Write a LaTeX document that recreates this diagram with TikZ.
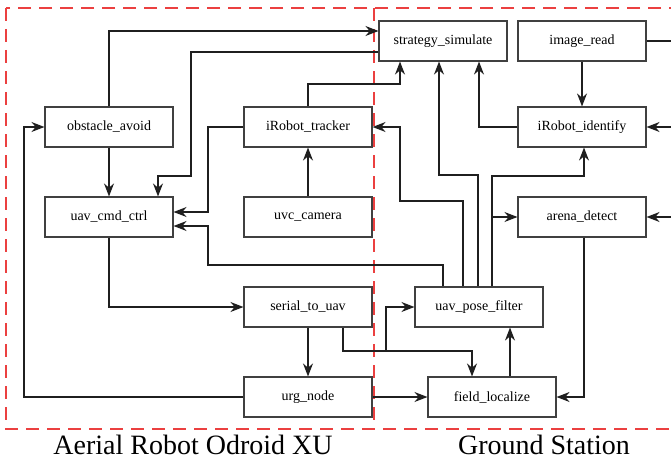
\documentclass[tikz,border=0pt]{standalone}
\usepackage{fontspec}
\setmainfont{Liberation Serif}
\usetikzlibrary{arrows.meta,positioning,calc}
\definecolor{zone}{RGB}{235,64,64}

\begin{document}
\begin{tikzpicture}[x=1pt,y=-1pt,>={Stealth[length=13pt,width=10pt]},
  blk/.style={draw=black!75,line width=1.1pt,minimum width=128pt,minimum height=40pt,inner sep=0pt,font=\fontsize{14}{16}\selectfont},
  wire/.style={draw=black!88,line width=1.3pt},
  area/.style={draw=zone,dash pattern=on 13pt off 8pt,line width=1.2pt},
  title/.style={anchor=base,font=\fontsize{28}{32}\selectfont}]
\useasboundingbox (0,0) rectangle (671,460);
\clip (0,0) rectangle (671,460);
% processes
\foreach \nm/\p/\t in {obst/{109,127}/obstacle\_avoid, cmd/{109,217}/uav\_cmd\_ctrl,
    track/{308,127}/iRobot\_tracker, uvc/{308,217}/uvc\_camera,
    serial/{308,307}/serial\_to\_uav, urg/{308,397}/urg\_node,
    strat/{443,41}/strategy\_simulate, imread/{582,41}/image\_read,
    ident/{582,127}/iRobot\_identify, arena/{582,217}/arena\_detect,
    pose/{479,307}/uav\_pose\_filter, field/{492,397}/field\_localize} {
  \node[blk] (\nm) at (\p) {\t};
}
% areas
\draw[area] (6,8) rectangle (700,429);
\draw[area] (374,8) -- (374,429);
\node[title] (air) at (193,454) {Aerial Robot Odroid XU};
\node[title] (gnd) at (544,454) {Ground Station};
% aerial side
\draw[wire,->] (obst.north) |- ($(strat.west)+(0,-10)$);
\draw[wire,->] ($(strat.west)+(0,11)$) -| (191,176) -| ($(cmd.north)+(49,0)$);
\draw[wire,->] (track.north) |- (400,84) -- ($(strat.south)+(-43,0)$);
\draw[wire,->] (track.west) -| (208,212) -- ($(cmd.east)+(0,-5)$);
\draw[wire,->] (obst) -- (cmd);
\draw[wire,->] (uvc) -- (track);
\draw[wire,->] (cmd.south) |- (serial.west);
\draw[wire,->] (serial) -- (urg);
\draw[wire,->] (urg.west) -- (24,397) |- (obst.west);
\draw[wire,->] (urg) -- (field);
\coordinate (split) at (386,351);
\draw[wire,->] ($(serial.south)+(35,0)$) |- (split) -| ($(field.north)+(-20,0)$);
\draw[wire,->] (split) |- (pose.west);
% ground side
\coordinate (pf0) at ($(pose.north)+(-36,0)$);
\coordinate (pf1) at ($(pose.north)+(-16,0)$);
\coordinate (pf2) at ($(pose.north)+(-1,0)$);
\coordinate (pf3) at ($(pose.north)+(13,0)$);
\draw[wire,->] (pf0) |- (208,265) |- ($(cmd.east)+(0,9)$);
\draw[wire,->] (pf1) |- (400,201) |- (track.east);
\draw[wire,->] (pf2) |- (439,175) -- ($(strat.south)+(-4,0)$);
\draw[wire,->] (pf3) |- (584,176) -- ($(ident.south)+(2,0)$);
\draw[wire,->] (arena.west -| pf3) -- (arena.west);
\draw[wire,->] ($(field.north)+(18,0)$) -- ($(pose.south)+(31,0)$);
\draw[wire,->] (ident.west) -| ($(strat.south)+(36,0)$);
\draw[wire,->] (imread) -- (ident);
\draw[wire,->] ($(arena.south)+(2,0)$) |- (field.east);
% links leaving the picture
\coordinate (out1) at (680,41);
\coordinate (out2) at (680,127);
\coordinate (out3) at (680,217);
\draw[wire] (imread.east) -- (out1);
\draw[wire,<-] (ident.east) -- (out2);
\draw[wire,<-] (arena.east) -- (out3);
\end{tikzpicture}
\end{document}
